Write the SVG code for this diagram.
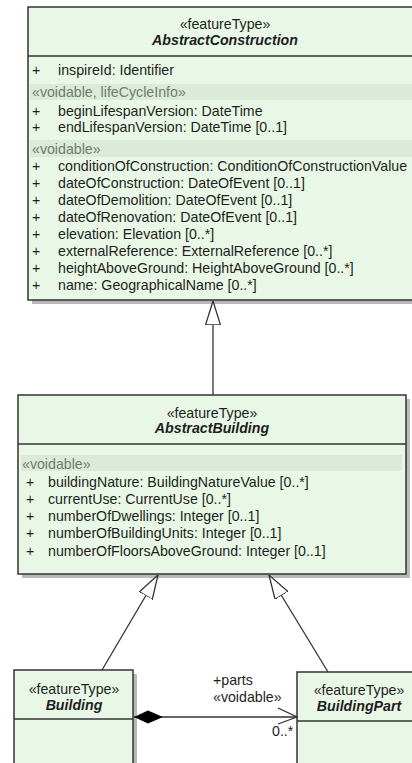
<svg xmlns="http://www.w3.org/2000/svg" width="412" height="763" viewBox="0 0 412 763">
<defs>
<style>
text{font-family:"Liberation Sans",Arial,sans-serif;font-size:14.2px;fill:#1e1e1e}
.c{text-anchor:middle}
.t{font-weight:bold;font-style:italic}
.s{fill:#6e7d6e}
.box{fill:#e9f8e6;stroke:#333;stroke-width:1.5}
.sh{fill:#b9b9b9}
.sep{stroke:#333;stroke-width:1.5}
.band{fill:#dde9d9}
.ln{stroke:#333;stroke-width:1.3;fill:none}
</style>
<marker id="gen" viewBox="0 0 24 16" refX="24" refY="8" markerWidth="24" markerHeight="16" markerUnits="userSpaceOnUse" orient="auto">
<path d="M24,8 L0,0.5 L0,15.5 Z" fill="#fff" stroke="#333" stroke-width="1.3"/>
</marker>
<marker id="dia" viewBox="0 0 30 14" refX="0" refY="7" markerWidth="30" markerHeight="14" markerUnits="userSpaceOnUse" orient="auto">
<path d="M0,7 L14,0.5 L29,7 L14,13.5 Z" fill="#000"/>
</marker>
</defs>

<g id="AbstractConstruction">
<rect class="sh" x="32" y="11" width="400" height="293"/>
<rect class="box" x="28" y="7" width="400" height="293"/>
<line class="sep" x1="28" y1="56" x2="428" y2="56"/>
<text class="c" x="225" y="29">«featureType»</text>
<text class="c t" x="225" y="45">AbstractConstruction</text>
<text x="32" y="75">+</text><text x="58" y="75">inspireId: Identifier</text>
<rect class="band" x="30" y="84" width="400" height="16"/>
<text class="s" x="32" y="97">«voidable, lifeCycleInfo»</text>
<text x="32" y="116">+</text><text x="58" y="116">beginLifespanVersion: DateTime</text>
<text x="32" y="132">+</text><text x="58" y="132">endLifespanVersion: DateTime [0..1]</text>
<rect class="band" x="30" y="140" width="400" height="17"/>
<text class="s" x="32" y="154">«voidable»</text>
<text x="32" y="171">+</text><text x="58" y="171">conditionOfConstruction: ConditionOfConstructionValue</text>
<text x="32" y="188">+</text><text x="58" y="188">dateOfConstruction: DateOfEvent [0..1]</text>
<text x="32" y="205">+</text><text x="58" y="205">dateOfDemolition: DateOfEvent [0..1]</text>
<text x="32" y="222">+</text><text x="58" y="222">dateOfRenovation: DateOfEvent [0..1]</text>
<text x="32" y="239">+</text><text x="58" y="239">elevation: Elevation [0..*]</text>
<text x="32" y="256">+</text><text x="58" y="256">externalReference: ExternalReference [0..*]</text>
<text x="32" y="273">+</text><text x="58" y="273">heightAboveGround: HeightAboveGround [0..*]</text>
<text x="32" y="290">+</text><text x="58" y="290">name: GeographicalName [0..*]</text>
</g>

<g id="AbstractBuilding">
<rect class="sh" x="22" y="399" width="388" height="179"/>
<rect class="box" x="18" y="395" width="388" height="179"/>
<line class="sep" x1="18" y1="444" x2="406" y2="444"/>
<text class="c" x="212" y="418">«featureType»</text>
<text class="c t" x="212" y="433">AbstractBuilding</text>
<rect class="band" x="21" y="455" width="381" height="16"/>
<text class="s" x="22" y="469">«voidable»</text>
<text x="26" y="487">+</text><text x="48" y="487">buildingNature: BuildingNatureValue [0..*]</text>
<text x="26" y="504">+</text><text x="48" y="504">currentUse: CurrentUse [0..*]</text>
<text x="26" y="521">+</text><text x="48" y="521">numberOfDwellings: Integer [0..1]</text>
<text x="26" y="538">+</text><text x="48" y="538">numberOfBuildingUnits: Integer [0..1]</text>
<text x="26" y="556">+</text><text x="48" y="556">numberOfFloorsAboveGround: Integer [0..1]</text>
</g>

<g id="Building">
<rect class="sh" x="18" y="674" width="119" height="100"/>
<rect class="box" x="14" y="670" width="119" height="100"/>
<line class="sep" x1="14" y1="719" x2="133" y2="719"/>
<text class="c" x="74" y="694">«featureType»</text>
<text class="c t" x="74" y="710">Building</text>
</g>

<g id="BuildingPart">
<rect class="box" x="297" y="672" width="130" height="100"/>
<line class="sep" x1="297" y1="721" x2="427" y2="721"/>
<text class="c" x="359" y="695">«featureType»</text>
<text class="c t" x="359" y="711">BuildingPart</text>
</g>

<g id="connectors">
<line class="ln" x1="213" y1="395" x2="213" y2="301" marker-end="url(#gen)"/>
<line class="ln" x1="102" y1="670" x2="158" y2="575" marker-end="url(#gen)"/>
<line class="ln" x1="328" y1="672" x2="269" y2="575" marker-end="url(#gen)"/>
<line class="ln" x1="134" y1="717" x2="297" y2="717" marker-start="url(#dia)"/>
<polyline class="ln" points="278,708 297,717 278,724"/>
<text x="213" y="685">+parts</text>
<text x="213" y="702">«voidable»</text>
<text x="272" y="736">0..*</text>
</g>
</svg>
